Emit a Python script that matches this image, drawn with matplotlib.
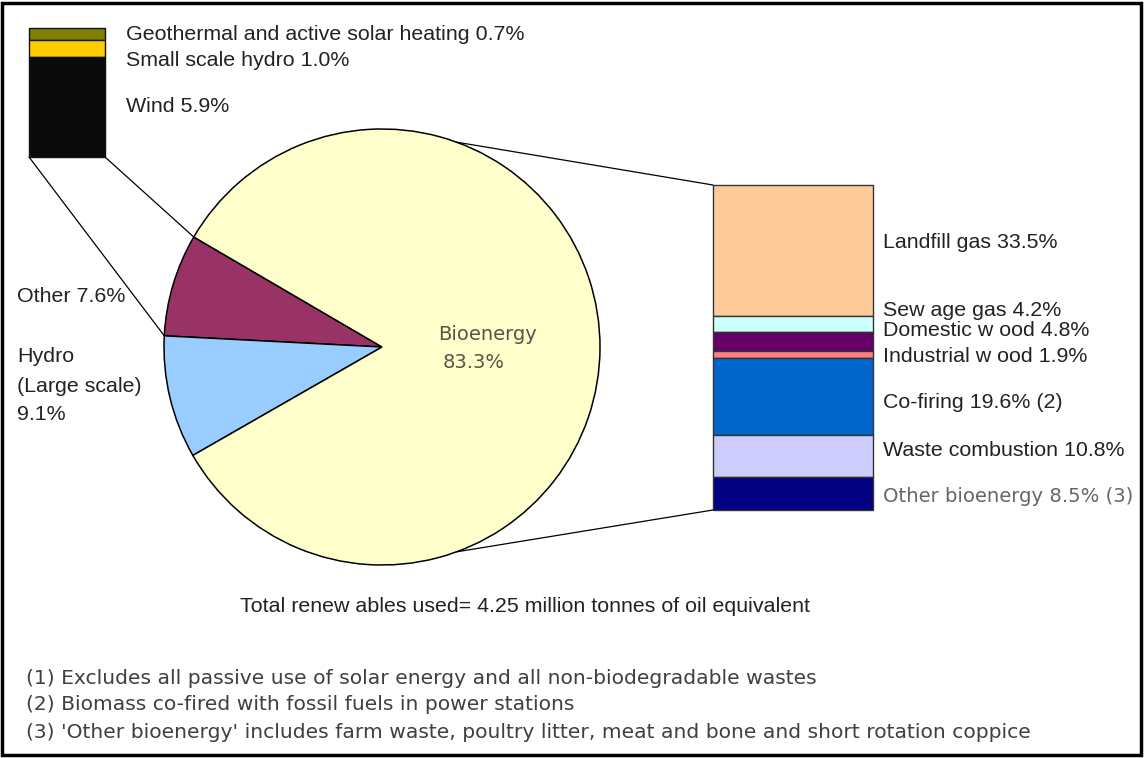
import numpy as np
import matplotlib
matplotlib.use('Agg')
import matplotlib.pyplot as plt
from matplotlib.patches import ConnectionPatch, Rectangle

# DATA
main_labels = ['Other', 'Hydro', 'Bioenergy']
main_values = [7.6, 9.1, 83.3]
main_colors = ['#993366', '#99CCFF', '#FFFFCC']

other_labels = ['Geothermal and active solar heating', 'Small scale hydro', 'Wind']
other_values = [0.7, 1.0, 5.9]
other_colors = ['#808000', '#FFCC00', '#0A0A0A']

bio_labels = ['Landfill gas', 'Sew age gas', 'Domestic w ood', 'Industrial w ood',
              'Co-firing', 'Waste combustion', 'Other bioenergy']
bio_values = [33.5, 4.2, 4.8, 1.9, 19.6, 10.8, 8.5]
bio_notes = ['', '', '', '', ' (2)', '', ' (3)']
bio_colors = ['#FFCC99', '#CCFFFF', '#660066', '#FF8080', '#0066CC', '#CCCCFF', '#000080']

total_text = 'Total renew ables used= 4.25 million tonnes of oil equivalent'
footnotes = ['(1) Excludes all passive use of solar energy and all non-biodegradable wastes',
             '(2) Biomass co-fired with fossil fuels in power stations',
             "(3) 'Other bioenergy' includes farm waste, poultry litter, meat and bone and short rotation coppice"]

# LAYOUT (pixels, y from top)
W, H = 1144, 758
def py(y):
    return H - y

arial = 'Liberation Sans'
verdana = 'DejaVu Sans'
txt_col = '#222222'
fs = 15.4

fig = plt.figure(figsize=(W / 100, H / 100), dpi=100)
ax = fig.add_axes([0, 0, 1, 1])

cx, cy, r = 382, py(347), 218
wedges, _ = ax.pie(main_values, colors=main_colors, startangle=149.7, counterclock=True,
                   center=(cx, cy), radius=r,
                   wedgeprops=dict(edgecolor='black', linewidth=1.1))
ax.set_xlim(0, W)
ax.set_ylim(0, H)
ax.set_aspect('equal')
ax.axis('off')

def rim(angle):
    a = np.deg2rad(angle)
    return (cx + r * np.cos(a), cy + r * np.sin(a))

# left stacked bar (breakdown of "Other")
ax_l = fig.add_axes([29 / W, py(157) / H, 76 / W, 129 / H])
bot_l = sum(other_values) - np.cumsum(other_values)
ax_l.bar(0, other_values, bottom=bot_l, width=1, color=other_colors,
         edgecolor='#111111', linewidth=1, clip_on=False)
ax_l.set_xlim(-0.5, 0.5)
ax_l.set_ylim(0, sum(other_values))
ax_l.axis('off')

# right stacked bar (breakdown of "Bioenergy")
ax_r = fig.add_axes([713 / W, py(510) / H, 160 / W, 325 / H])
bot_r = sum(bio_values) - np.cumsum(bio_values)
ax_r.bar(0, bio_values, bottom=bot_r, width=1, color=bio_colors,
         edgecolor='#333333', linewidth=1, clip_on=False)
ax_r.set_xlim(-0.5, 0.5)
ax_r.set_ylim(0, sum(bio_values))
ax_r.axis('off')

# connector lines
w_other = wedges[0]
links = [(ax_l, (0, 0), rim(w_other.theta2)),
         (ax_l, (1, 0), rim(w_other.theta1)),
         (ax_r, (0, 1), rim(70)),
         (ax_r, (0, 0), rim(-70))]
for bar_ax, corner, pt in links:
    con = ConnectionPatch(xyA=corner, coordsA=bar_ax.transAxes, xyB=pt, coordsB=ax.transData,
                          color='black', linewidth=0.9)
    fig.add_artist(con)

# labels
def label(x, y, s, family=arial, size=fs, color=txt_col, ha='left'):
    ax.text(x, py(y + 7.5), s, ha=ha, va='baseline', fontfamily=family, fontsize=size, color=color)

left_y = [33, 59, 104]
for lab, val, yy in zip(other_labels, other_values, left_y):
    label(126, yy, f'{lab} {val:.1f}%')

label(17, 295, f'{main_labels[0]} {main_values[0]:.1f}%')
label(17, 355, main_labels[1])
label(17, 384, '(Large scale)')
label(17, 413, f'{main_values[1]:.1f}%')

label(487, 332, main_labels[2], family=verdana, size=14.0, color='#555548', ha='center')
label(474, 360, f'{main_values[2]:.1f}%', family=verdana, size=14.0, color='#555548', ha='center')

right_y = [240, 309, 328, 354, 401, 448, 494]
for i, (lab, val, note, yy) in enumerate(zip(bio_labels, bio_values, bio_notes, right_y)):
    if i == len(bio_labels) - 1:
        label(883, yy, f'{lab} {val:.1f}%{note}', family=verdana, size=14.1, color='#666666')
    else:
        label(883, yy, f'{lab} {val:.1f}%{note}')

label(525, 604, total_text, ha='center')

for i, note in enumerate(footnotes):
    label(26, 676 + 27 * i, note, family=verdana, size=14.6, color='#404040')

fig.add_artist(Rectangle((2 / W, 3 / H), 1139 / W, 752 / H, transform=fig.transFigure,
                         fill=False, edgecolor='black', linewidth=2.5))

fig.savefig('out.png', dpi=100, facecolor='white')
